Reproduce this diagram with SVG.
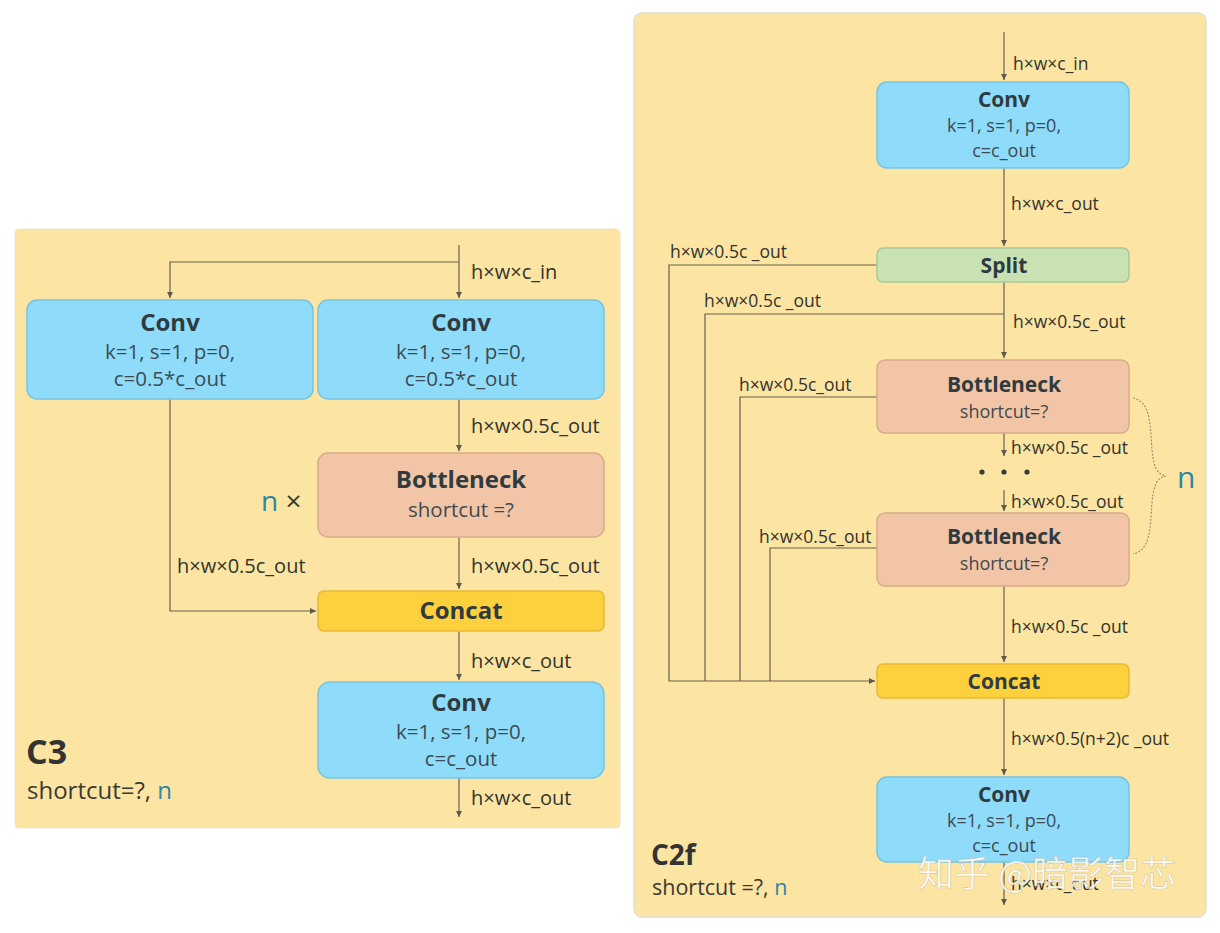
<svg xmlns="http://www.w3.org/2000/svg" width="1220" height="933" viewBox="0 0 1220 933">
<defs>
<marker id="arr" markerWidth="8" markerHeight="8" refX="6" refY="3" orient="auto" markerUnits="userSpaceOnUse">
<path d="M0,0 L6,3 L0,6 Z" fill="#5e5a4c"/>
</marker>
<style>
text{font-family:"Open Sans","Noto Sans","Liberation Sans",sans-serif;fill:#3a3a34}
.conv{fill:#8edcf9;stroke:#74c3e2;stroke-width:1.5}
.bott{fill:#f2c5a6;stroke:#d8ab8c;stroke-width:1.5}
.cat{fill:#fdd03e;stroke:#e6b936;stroke-width:1.5}
.split{fill:#c8e2b4;stroke:#a9c797;stroke-width:1.5}
.ttl{font-weight:bold;font-size:24px;text-anchor:middle;fill:#2f3b3f}
.prm{font-size:20.5px;text-anchor:middle;fill:#3d4a52}
.ttl2{font-weight:bold;font-size:21px;text-anchor:middle;fill:#2f3b3f}
.prm2{font-size:18px;text-anchor:middle;fill:#3d4a52}
.lbl{font-size:20px;fill:#33332e}
.lbl2{font-size:17.5px;fill:#33332e}
.ln{fill:none;stroke:#66614f;stroke-width:1.2}
.n{fill:#2e86a6}
.dot{fill:#3a3a34}
</style>
</defs>
<rect width="1220" height="933" fill="#ffffff"/>
<!-- C3 panel -->
<g id="c3-panel">
<rect x="15" y="229" width="605" height="599" rx="4" fill="#fce5a2" stroke="#eee4cc" stroke-width="1"/>
<text x="26" y="764" style="font-size:34px;font-weight:bold;fill:#333">C3</text>
<text x="27" y="799" style="font-size:24px">shortcut=?, <tspan class="n">n</tspan></text>
<text x="261" y="511" style="font-size:28px"><tspan class="n">n</tspan> ×</text>
</g>
<g id="c3-connectors">
<path class="ln" d="M459,245 V298" marker-end="url(#arr)"/>
<path class="ln" d="M459,262 H170 V298" marker-end="url(#arr)"/>
<path class="ln" d="M459,399 V451" marker-end="url(#arr)"/>
<path class="ln" d="M459,537 V589" marker-end="url(#arr)"/>
<path class="ln" d="M170,399 V611 H316" marker-end="url(#arr)"/>
<path class="ln" d="M459,631 V680" marker-end="url(#arr)"/>
<path class="ln" d="M459,778 V817" marker-end="url(#arr)"/>
<text class="lbl" x="471" y="279">h×w×c_in</text>
<text class="lbl" x="471" y="433">h×w×0.5c_out</text>
<text class="lbl" x="177" y="573">h×w×0.5c_out</text>
<text class="lbl" x="471" y="573">h×w×0.5c_out</text>
<text class="lbl" x="471" y="668">h×w×c_out</text>
<text class="lbl" x="471" y="805">h×w×c_out</text>
</g>
<g id="c3-conv1">
<rect class="conv" x="27" y="300" width="286" height="99" rx="10"/>
<text class="ttl" x="170" y="331">Conv</text>
<text class="prm" x="170" y="359">k=1, s=1, p=0,</text>
<text class="prm" x="170" y="386">c=0.5*c_out</text>
</g>
<g id="c3-conv2">
<rect class="conv" x="318" y="300" width="286" height="99" rx="10"/>
<text class="ttl" x="461" y="331">Conv</text>
<text class="prm" x="461" y="359">k=1, s=1, p=0,</text>
<text class="prm" x="461" y="386">c=0.5*c_out</text>
</g>
<g id="c3-bottleneck">
<rect class="bott" x="318" y="453" width="286" height="84" rx="10"/>
<text class="ttl" x="461" y="488">Bottleneck</text>
<text class="prm" x="461" y="517">shortcut =?</text>
</g>
<g id="c3-concat">
<rect class="cat" x="318" y="591" width="286" height="40" rx="6"/>
<text class="ttl" x="461" y="619">Concat</text>
</g>
<g id="c3-conv3">
<rect class="conv" x="318" y="682" width="286" height="96" rx="12"/>
<text class="ttl" x="461" y="711">Conv</text>
<text class="prm" x="461" y="739">k=1, s=1, p=0,</text>
<text class="prm" x="461" y="766">c=c_out</text>
</g>
<!-- C2f panel -->
<g id="c2f-panel">
<rect x="634" y="13" width="572" height="904" rx="8" fill="#fce5a2" stroke="#e2dccb" stroke-width="1.5"/>
<text x="651" y="865" style="font-size:28px;font-weight:bold;fill:#333">C2f</text>
<text x="652" y="895" style="font-size:21.5px">shortcut =?, <tspan class="n">n</tspan></text>
<path d="M1133,398 C1150,402 1150,420 1152,450 C1154,470 1158,474 1166,476 C1158,478 1154,482 1152,502 C1150,532 1150,550 1133,554" fill="none" stroke="#9a8c66" stroke-width="1.1" stroke-dasharray="2,1.5"/>
<text x="1177" y="488" style="font-size:30px" class="n">n</text>
<circle class="dot" cx="982" cy="472" r="2.6"/>
<circle class="dot" cx="1004" cy="472" r="2.6"/>
<circle class="dot" cx="1027" cy="472" r="2.6"/>
</g>
<g id="c2f-connectors">
<path class="ln" d="M1004,32 V80" marker-end="url(#arr)"/>
<path class="ln" d="M1004,168 V246" marker-end="url(#arr)"/>
<path class="ln" d="M1004,282 V358" marker-end="url(#arr)"/>
<path class="ln" d="M1004,433 V456" marker-end="url(#arr)"/>
<path class="ln" d="M1004,490 V511" marker-end="url(#arr)"/>
<path class="ln" d="M1004,586 V662" marker-end="url(#arr)"/>
<path class="ln" d="M1004,698 V775" marker-end="url(#arr)"/>
<path class="ln" d="M1004,862 V905" marker-end="url(#arr)"/>
<path class="ln" d="M877,265 H669 V681 H875" marker-end="url(#arr)"/>
<path class="ln" d="M1004,314 H705 V681"/>
<path class="ln" d="M877,397 H740 V681"/>
<path class="ln" d="M877,548 H770 V681"/>
<text class="lbl2" x="1013" y="70">h×w×c_in</text>
<text class="lbl2" x="1011" y="210">h×w×c_out</text>
<text class="lbl2" x="670" y="258">h×w×0.5c _out</text>
<text class="lbl2" x="704" y="307">h×w×0.5c _out</text>
<text class="lbl2" x="1013" y="328">h×w×0.5c_out</text>
<text class="lbl2" x="739" y="391">h×w×0.5c_out</text>
<text class="lbl2" x="1011" y="454">h×w×0.5c _out</text>
<text class="lbl2" x="1011" y="508">h×w×0.5c_out</text>
<text class="lbl2" x="759" y="543">h×w×0.5c_out</text>
<text class="lbl2" x="1011" y="633">h×w×0.5c _out</text>
<text class="lbl2" x="1011" y="745">h×w×0.5(n+2)c _out</text>
<text class="lbl2" x="1011" y="890">h×w×c_out</text>
</g>
<g id="c2f-conv1">
<rect class="conv" x="877" y="82" width="252" height="86" rx="10"/>
<text class="ttl2" x="1004" y="107">Conv</text>
<text class="prm2" x="1004" y="132">k=1, s=1, p=0,</text>
<text class="prm2" x="1004" y="157">c=c_out</text>
</g>
<g id="c2f-split">
<rect class="split" x="877" y="248" width="252" height="34" rx="6"/>
<text class="ttl2" x="1004" y="273">Split</text>
</g>
<g id="c2f-bottleneck1">
<rect class="bott" x="877" y="360" width="252" height="73" rx="8"/>
<text class="ttl2" x="1004" y="392">Bottleneck</text>
<text class="prm2" x="1004" y="418">shortcut=?</text>
</g>
<g id="c2f-bottleneck2">
<rect class="bott" x="877" y="513" width="252" height="73" rx="8"/>
<text class="ttl2" x="1004" y="544">Bottleneck</text>
<text class="prm2" x="1004" y="570">shortcut=?</text>
</g>
<g id="c2f-concat">
<rect class="cat" x="877" y="664" width="252" height="34" rx="6"/>
<text class="ttl2" x="1004" y="689">Concat</text>
</g>
<g id="c2f-conv2">
<rect class="conv" x="877" y="777" width="252" height="85" rx="10"/>
<text class="ttl2" x="1004" y="802">Conv</text>
<text class="prm2" x="1004" y="827">k=1, s=1, p=0,</text>
<text class="prm2" x="1004" y="852">c=c_out</text>
</g>
<g id="watermark">
<text x="918" y="887" style="font-family:'Noto Sans CJK SC','Noto Sans',sans-serif;font-size:36px;fill:#ffffff;fill-opacity:0.85;stroke:#b8aa88;stroke-width:0.6;stroke-opacity:0.6">知乎 @暗影智芯</text>
</g>
</svg>
